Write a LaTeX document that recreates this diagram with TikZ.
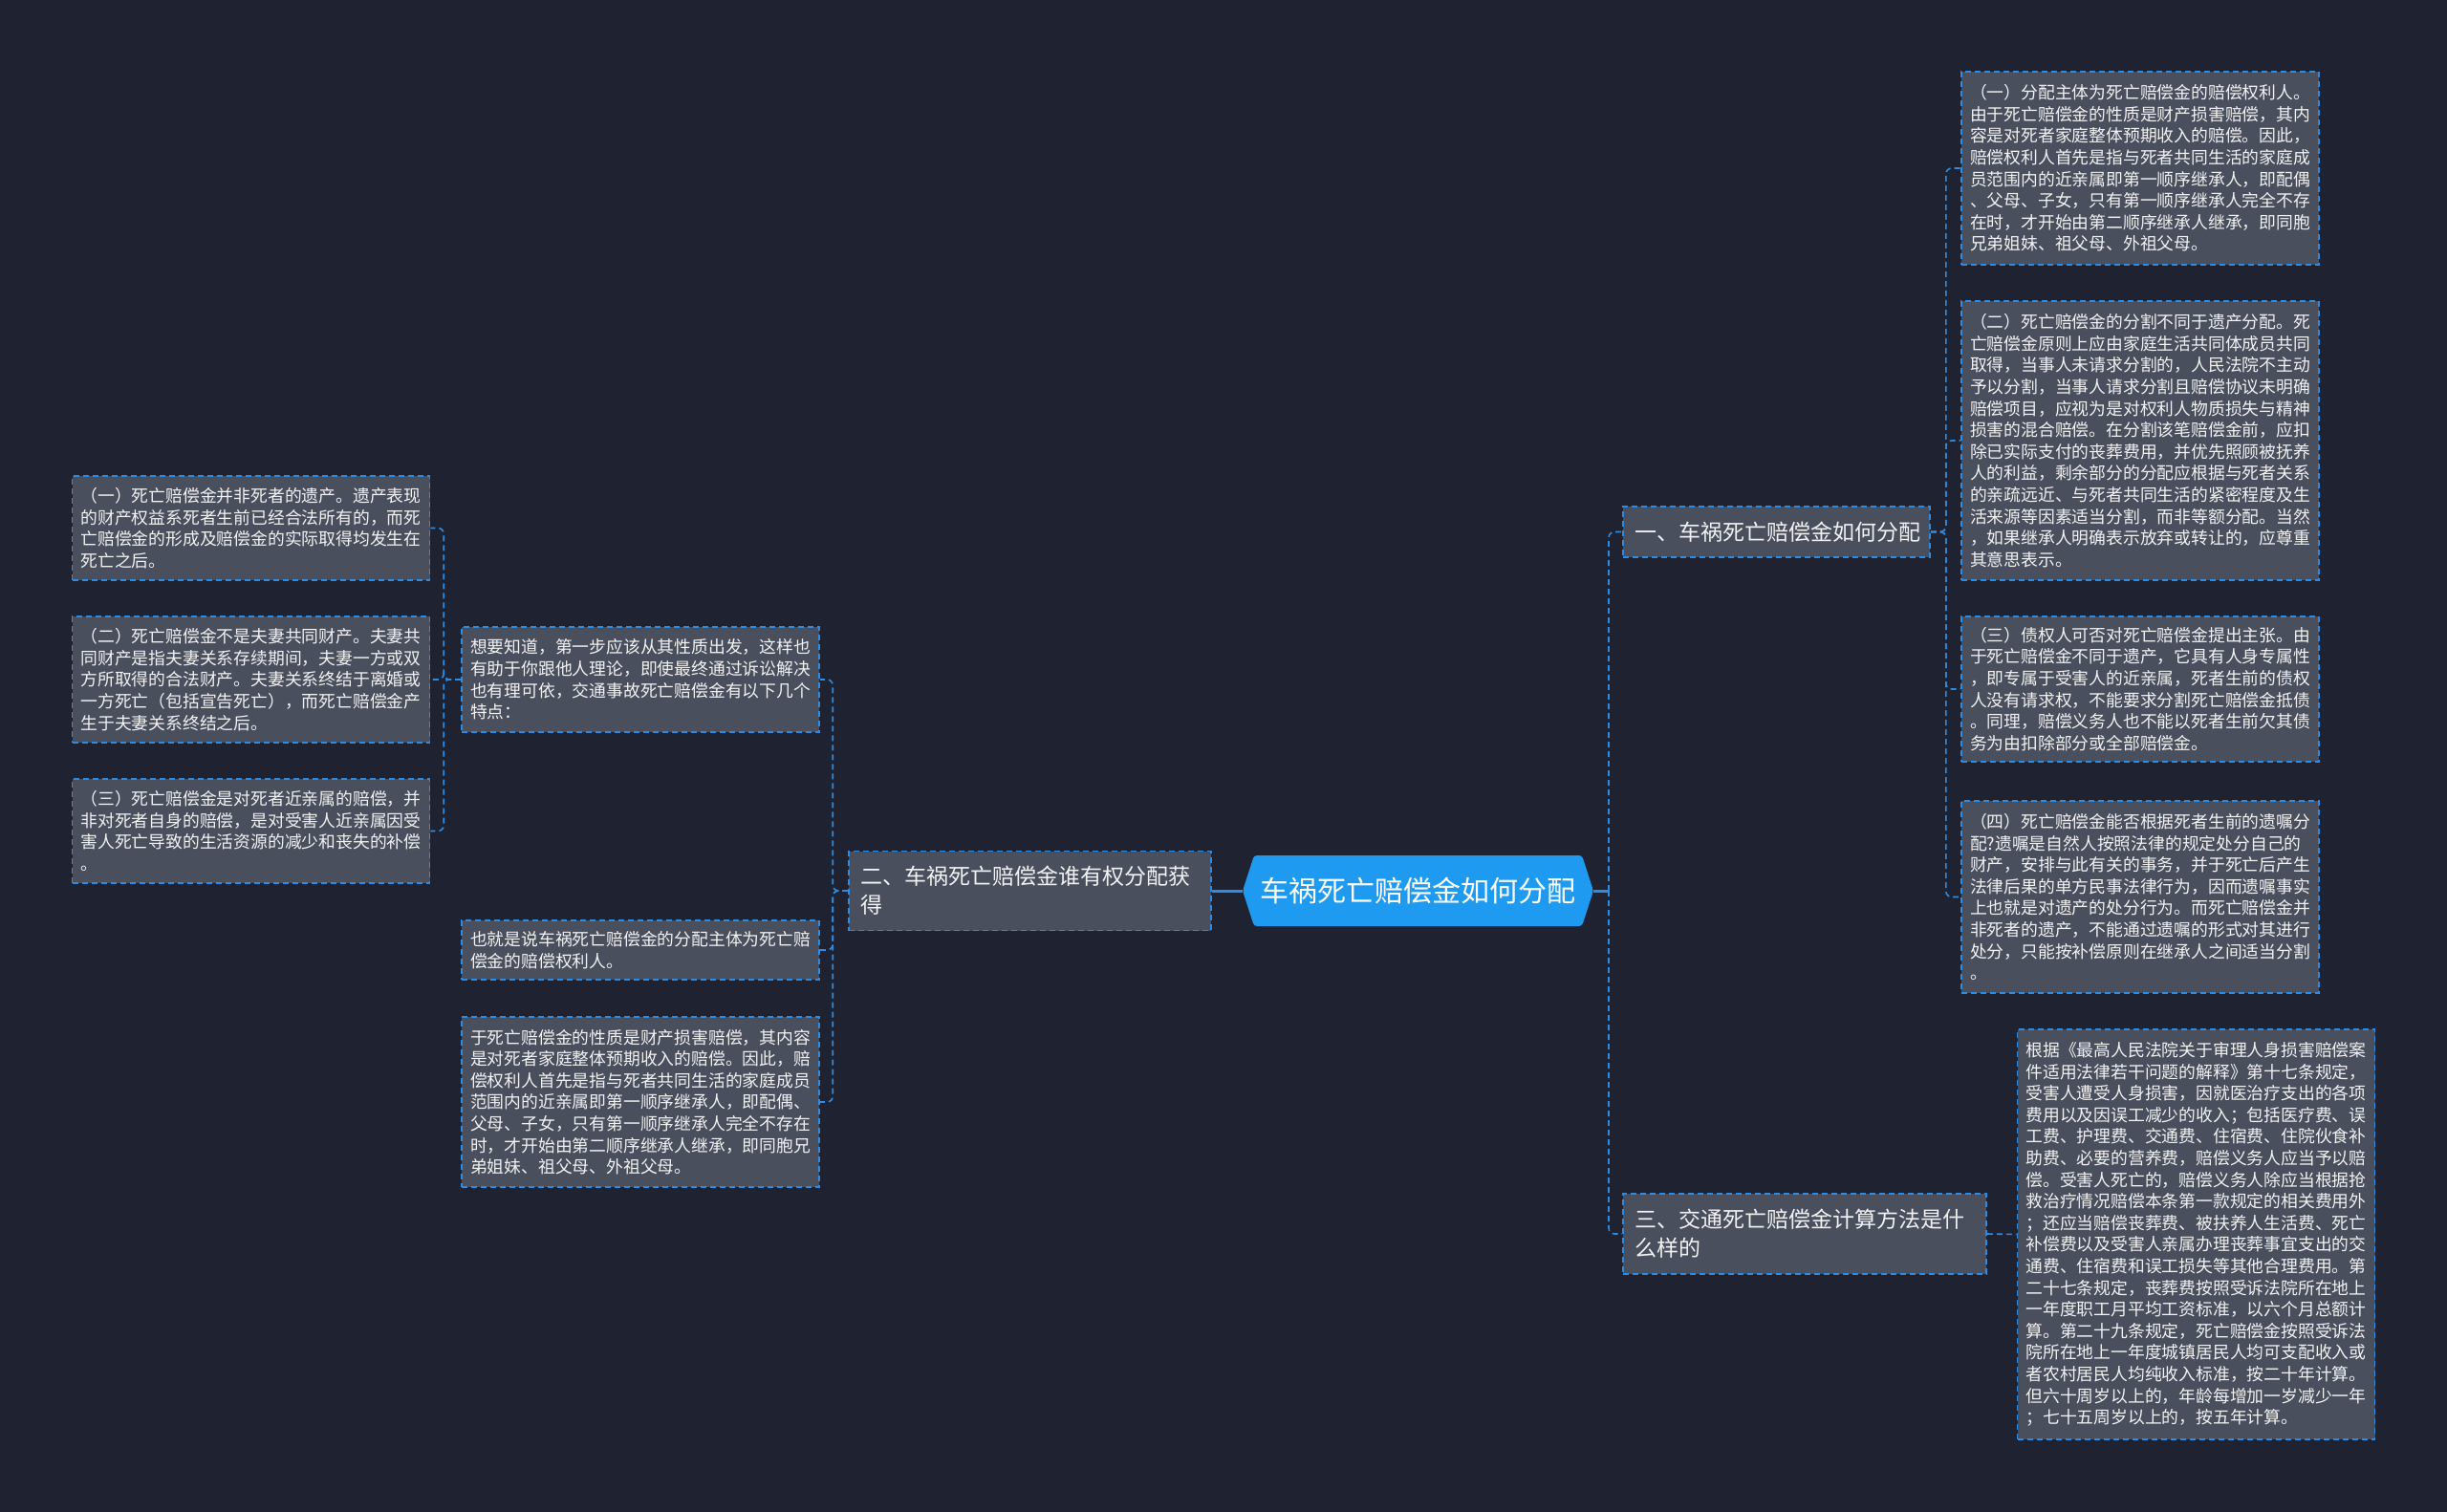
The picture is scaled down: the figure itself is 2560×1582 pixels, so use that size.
\documentclass[tikz,border=0pt]{standalone}
\usepackage{fontspec}
\setmainfont{Noto Sans CJK SC}
\usetikzlibrary{calc}
\definecolor{bg}{HTML}{1F2231}
\definecolor{boxfill}{HTML}{4A4F5E}
\definecolor{lineblue}{HTML}{2C8CE3}
\definecolor{rootblue}{HTML}{1E9BF0}
\definecolor{txt}{HTML}{F2F2F2}
\begin{document}
\begin{tikzpicture}[x=1pt,y=-1pt,
 leaf/.style={draw=lineblue, line width=1.6pt, dash pattern=on 6pt off 4pt, fill=boxfill, text=txt,
   font=\fontsize{17.8pt}{22.6pt}\selectfont, align=left, text width=356pt, inner xsep=9pt, inner ysep=0pt, anchor=center},
 branch/.style={leaf, font=\fontsize{23pt}{30pt}\selectfont, inner xsep=12pt},
 conn/.style={draw=lineblue, line width=1.6pt, dash pattern=on 6pt off 4pt, rounded corners=6pt},
 rootconn/.style={draw=lineblue, line width=3pt}
]
\useasboundingbox (0,0) rectangle (2560,1582);
\fill[bg] (0,0) rectangle (2560,1582);

% root
\fill[rootblue, rounded corners=3pt] (1300,932) -- (1312,895) -- (1655,895) -- (1667,932) -- (1655,969) -- (1312,969) -- cycle;
\node[text=white, font=\fontsize{30pt}{36pt}\selectfont, minimum width=367pt, minimum height=74pt, inner sep=0pt] (root) at (1483.5,932) {车祸死亡赔偿金如何分配};

% branches
\node[branch, text width=297pt, minimum height=53pt] (b1) at (1858.5,556.5) {一、车祸死亡赔偿金如何分配};
\node[branch, text width=355pt, minimum height=83pt] (b2) at (1077.5,932) {二、车祸死亡赔偿金谁有权分配获\\得};
\node[branch, text width=356pt, minimum height=84pt] (b3) at (1888,1291) {三、交通死亡赔偿金计算方法是什\\么样的};

% right leaves
\node[leaf, minimum height=202pt] (r1) at (2239,176) {（一）分配主体为死亡赔偿金的赔偿权利人。\\由于死亡赔偿金的性质是财产损害赔偿，其内\\容是对死者家庭整体预期收入的赔偿。因此，\\赔偿权利人首先是指与死者共同生活的家庭成\\员范围内的近亲属即第一顺序继承人，即配偶\\、父母、子女，只有第一顺序继承人完全不存\\在时，才开始由第二顺序继承人继承，即同胞\\兄弟姐妹、祖父母、外祖父母。};
\node[leaf, minimum height=292pt] (r2) at (2239,461) {（二）死亡赔偿金的分割不同于遗产分配。死\\亡赔偿金原则上应由家庭生活共同体成员共同\\取得，当事人未请求分割的，人民法院不主动\\予以分割，当事人请求分割且赔偿协议未明确\\赔偿项目，应视为是对权利人物质损失与精神\\损害的混合赔偿。在分割该笔赔偿金前，应扣\\除已实际支付的丧葬费用，并优先照顾被抚养\\人的利益，剩余部分的分配应根据与死者关系\\的亲疏远近、与死者共同生活的紧密程度及生\\活来源等因素适当分割，而非等额分配。当然\\，如果继承人明确表示放弃或转让的，应尊重\\其意思表示。};
\node[leaf, minimum height=152pt] (r3) at (2239,721) {（三）债权人可否对死亡赔偿金提出主张。由\\于死亡赔偿金不同于遗产，它具有人身专属性\\，即专属于受害人的近亲属，死者生前的债权\\人没有请求权，不能要求分割死亡赔偿金抵债\\。同理，赔偿义务人也不能以死者生前欠其债\\务为由扣除部分或全部赔偿金。};
\node[leaf, minimum height=201pt] (r4) at (2239,938.5) {（四）死亡赔偿金能否根据死者生前的遗嘱分\\配?遗嘱是自然人按照法律的规定处分自己的\\财产，安排与此有关的事务，并于死亡后产生\\法律后果的单方民事法律行为，因而遗嘱事实\\上也就是对遗产的处分行为。而死亡赔偿金并\\非死者的遗产，不能通过遗嘱的形式对其进行\\处分，只能按补偿原则在继承人之间适当分割\\。};
\node[leaf, minimum height=429pt] (r5) at (2297.5,1291.5) {根据《最高人民法院关于审理人身损害赔偿案\\件适用法律若干问题的解释》第十七条规定，\\受害人遭受人身损害，因就医治疗支出的各项\\费用以及因误工减少的收入；包括医疗费、误\\工费、护理费、交通费、住宿费、住院伙食补\\助费、必要的营养费，赔偿义务人应当予以赔\\偿。受害人死亡的，赔偿义务人除应当根据抢\\救治疗情况赔偿本条第一款规定的相关费用外\\；还应当赔偿丧葬费、被扶养人生活费、死亡\\补偿费以及受害人亲属办理丧葬事宜支出的交\\通费、住宿费和误工损失等其他合理费用。第\\二十七条规定，丧葬费按照受诉法院所在地上\\一年度职工月平均工资标准，以六个月总额计\\算。第二十九条规定，死亡赔偿金按照受诉法\\院所在地上一年度城镇居民人均可支配收入或\\者农村居民人均纯收入标准，按二十年计算。\\但六十周岁以上的，年龄每增加一岁减少一年\\；七十五周岁以上的，按五年计算。};

% middle leaves
\node[leaf, minimum height=110pt] (ma) at (670,711) {想要知道，第一步应该从其性质出发，这样也\\有助于你跟他人理论，即使最终通过诉讼解决\\也有理可依，交通事故死亡赔偿金有以下几个\\特点：};
\node[leaf, minimum height=62pt] (mb) at (670,994) {也就是说车祸死亡赔偿金的分配主体为死亡赔\\偿金的赔偿权利人。};
\node[leaf, minimum height=178pt] (mc) at (670,1153) {于死亡赔偿金的性质是财产损害赔偿，其内容\\是对死者家庭整体预期收入的赔偿。因此，赔\\偿权利人首先是指与死者共同生活的家庭成员\\范围内的近亲属即第一顺序继承人，即配偶、\\父母、子女，只有第一顺序继承人完全不存在\\时，才开始由第二顺序继承人继承，即同胞兄\\弟姐妹、祖父母、外祖父母。};

% left leaves
\node[leaf, minimum height=109pt] (l1) at (262.5,552.5) {（一）死亡赔偿金并非死者的遗产。遗产表现\\的财产权益系死者生前已经合法所有的，而死\\亡赔偿金的形成及赔偿金的实际取得均发生在\\死亡之后。};
\node[leaf, minimum height=132pt] (l2) at (262.5,711) {（二）死亡赔偿金不是夫妻共同财产。夫妻共\\同财产是指夫妻关系存续期间，夫妻一方或双\\方所取得的合法财产。夫妻关系终结于离婚或\\一方死亡（包括宣告死亡），而死亡赔偿金产\\生于夫妻关系终结之后。};
\node[leaf, minimum height=109pt] (l3) at (262.5,869.5) {（三）死亡赔偿金是对死者近亲属的赔偿，并\\非对死者自身的赔偿，是对受害人近亲属因受\\害人死亡导致的生活资源的减少和丧失的补偿\\。};

% connectors
\coordinate (jr) at (1683,932);
\draw[rootconn] (root.east) -- (jr);
\draw[rootconn] (root.west) -- (b2.east);
\draw[conn] (jr) |- (b1.west);
\draw[conn] (jr) |- (b3.west);

\foreach \n in {r1,r2,r3,r4} \draw[conn] (b1.east) -- ++(16,0) |- (\n.west);
\draw[conn] (b3.east) -- (r5.west);

\foreach \n in {ma,mb,mc} \draw[conn] (b2.west) -- ++(-16,0) |- (\n.east);
\foreach \n in {l1,l2,l3} \draw[conn] (ma.west) -- ++(-18,0) |- (\n.east);
\end{tikzpicture}
\end{document}
